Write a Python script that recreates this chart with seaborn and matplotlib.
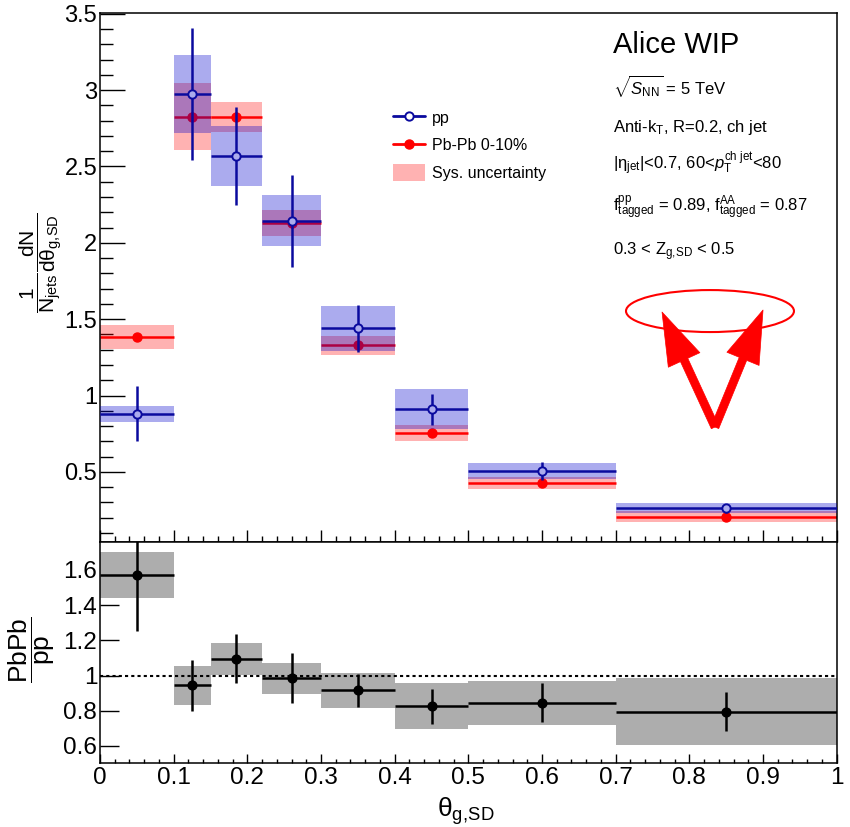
import matplotlib
matplotlib.use("Agg")
import matplotlib.pyplot as plt
import seaborn as sns
import pandas as pd
from matplotlib.patches import Ellipse, Patch
from matplotlib.lines import Line2D
from matplotlib.ticker import MultipleLocator, NullLocator, FuncFormatter

# theta_g,SD binning
bin_low = [0.00, 0.10, 0.15, 0.22, 0.30, 0.40, 0.50, 0.70]
bin_high = [0.10, 0.15, 0.22, 0.30, 0.40, 0.50, 0.70, 1.00]
bin_center = [0.05, 0.125, 0.185, 0.26, 0.35, 0.45, 0.60, 0.85]

# pp reference distribution
pp_val = [0.88, 2.975, 2.57, 2.145, 1.44, 0.91, 0.505, 0.263]
pp_stat = [0.18, 0.43, 0.32, 0.30, 0.155, 0.10, 0.06, 0.03]
pp_sys = [0.05, 0.255, 0.195, 0.167, 0.145, 0.13, 0.052, 0.033]

# Pb-Pb 0-10% distribution
pbpb_val = [1.383, 2.825, 2.825, 2.13, 1.33, 0.755, 0.427, 0.206]
pbpb_stat = [0.02, 0.03, 0.03, 0.03, 0.02, 0.02, 0.015, 0.01]
pbpb_sys = [0.078, 0.22, 0.10, 0.085, 0.063, 0.055, 0.04, 0.035]

# Pb-Pb / pp ratio
ratio_val = [1.57, 0.945, 1.095, 0.985, 0.915, 0.825, 0.845, 0.795]
ratio_stat = [0.32, 0.145, 0.14, 0.14, 0.095, 0.10, 0.11, 0.11]
ratio_sys = [0.13, 0.11, 0.09, 0.088, 0.10, 0.13, 0.125, 0.19]

legend_labels = ["pp", "Pb-Pb 0-10%", "Sys. uncertainty"]
info_title = "Alice WIP"
info_lines = [
    r"$\sqrt{S_{\rm NN}}$ = 5 TeV",
    r"Anti-k$_{\rm T}$, R=0.2, ch jet",
    r"|η$_{\rm jet}$|<0.7, 60<$p_{\rm T}^{\rm ch\ jet}$<80",
    r"f$_{\rm tagged}^{\rm pp}$ = 0.89, f$_{\rm tagged}^{\rm AA}$ = 0.87",
    r"0.3 < Z$_{\rm g,\!SD}$ < 0.5",
]

df = pd.DataFrame({
    "lo": bin_low, "hi": bin_high, "x": bin_center,
    "pp": pp_val, "pp_stat": pp_stat, "pp_sys": pp_sys,
    "pbpb": pbpb_val, "pbpb_stat": pbpb_stat, "pbpb_sys": pbpb_sys,
    "ratio": ratio_val, "ratio_stat": ratio_stat, "ratio_sys": ratio_sys,
})
df["w"] = df["hi"] - df["lo"]
xerr = [df["x"] - df["lo"], df["hi"] - df["x"]]

sns.set_theme(style="ticks")
plt.rcParams["font.family"] = ["Liberation Sans", "DejaVu Sans"]
plt.rcParams["mathtext.fontset"] = "custom"
plt.rcParams["mathtext.rm"] = "Liberation Sans"
plt.rcParams["mathtext.it"] = "Liberation Sans:italic"
plt.rcParams["mathtext.bf"] = "Liberation Sans:bold"
plt.rcParams["mathtext.sf"] = "Liberation Sans"
for key in ["text.color", "axes.labelcolor", "xtick.color", "ytick.color",
            "xtick.labelcolor", "ytick.labelcolor", "axes.edgecolor"]:
    plt.rcParams[key] = "black"

PP_LINE = "#0a0a9e"
PP_BOX = (0.0, 0.0, 0.80, 0.33)
PP_FACE = "#ababed"
PB_LINE = "#ff0000"
PB_BOX = (1.0, 0.0, 0.0, 0.30)
GRAY_BOX = "#adadad"

fig = plt.figure(figsize=(8.5, 8.27), dpi=100)
left, width = 100 / 850, 736.7 / 850
ax1 = fig.add_axes([left, 1 - 541.7 / 827, width, 529 / 827])
ax2 = fig.add_axes([left, 1 - 763 / 827, width, 221.3 / 827])

# ---------- top panel: distributions ----------
ax1.bar(df["lo"], 2 * df["pbpb_sys"], width=df["w"], bottom=df["pbpb"] - df["pbpb_sys"],
        align="edge", color=PB_BOX, linewidth=0, zorder=1)
ax1.errorbar(df["x"], df["pbpb"], xerr=xerr, yerr=df["pbpb_stat"], fmt="none",
             ecolor=PB_LINE, elinewidth=1.8, capsize=0, zorder=2)
sns.scatterplot(data=df, x="x", y="pbpb", ax=ax1, color=PB_LINE, edgecolor=PB_LINE,
                linewidth=1.0, s=42, marker="o", zorder=3, legend=False)

ax1.bar(df["lo"], 2 * df["pp_sys"], width=df["w"], bottom=df["pp"] - df["pp_sys"],
        align="edge", color=PP_BOX, linewidth=0, zorder=4)
ax1.errorbar(df["x"], df["pp"], xerr=xerr, yerr=df["pp_stat"], fmt="none",
             ecolor=PP_LINE, elinewidth=1.8, capsize=0, zorder=5)
sns.scatterplot(data=df, x="x", y="pp", ax=ax1, color=PP_FACE, edgecolor=PP_LINE,
                linewidth=1.4, s=36, marker="o", zorder=6, legend=False)

ax1.set_xlim(0, 1)
ax1.set_ylim(0.043, 3.507)
ax1.xaxis.set_major_locator(MultipleLocator(0.1))
ax1.xaxis.set_minor_locator(MultipleLocator(0.02))
ax1.yaxis.set_major_locator(MultipleLocator(0.5))
ax1.yaxis.set_minor_locator(MultipleLocator(0.1))
ax1.yaxis.set_major_formatter(FuncFormatter(lambda v, p: f"{v:g}"))
ax1.tick_params(axis="x", which="major", direction="in", length=8.6, width=1.0,
                labelbottom=False, top=False)
ax1.tick_params(axis="x", which="minor", direction="in", length=4.3, width=1.0, top=False)
ax1.tick_params(axis="y", which="major", direction="in", length=18, width=1.0,
                labelsize=17, pad=2, right=False)
ax1.tick_params(axis="y", which="minor", direction="in", length=9, width=1.0, right=False)
ax1.set_xlabel("")
ax1.set_ylabel(r"$\dfrac{1}{\mathrm{N}_{\rm jets}}\dfrac{\mathrm{dN}}{\mathrm{dθ}_{\rm g,\!SD}}$",
               fontsize=15)
ax1.yaxis.set_label_coords(-0.047, 0.527)

# legend
handles = [
    Line2D([], [], color=PP_LINE, lw=2, marker="o", markersize=6,
           markerfacecolor="white", markeredgecolor=PP_LINE, markeredgewidth=1.4),
    Line2D([], [], color=PB_LINE, lw=2, marker="o", markersize=6.5,
           markerfacecolor=PB_LINE, markeredgecolor=PB_LINE),
    Patch(facecolor=PB_BOX, edgecolor="none"),
]
ax1.legend(handles, legend_labels, loc="upper left", bbox_to_anchor=(0.3977, 0.818),
           frameon=False, fontsize=11.5, handlelength=2.0, handleheight=1.2,
           handletextpad=0.45, labelspacing=0.7, borderpad=0, borderaxespad=0)

# info block
tx = 0.6963
ax1.text(tx, 0.9238, info_title, transform=ax1.transAxes, fontsize=21, va="baseline")
for yy, line in zip([0.8463, 0.7745, 0.7026, 0.6232, 0.542], info_lines):
    ax1.text(tx, yy, line, transform=ax1.transAxes, fontsize=12, va="baseline")

# highlight marks
ax1.add_patch(Ellipse((0.828, 0.436), 0.228, 0.0794, transform=ax1.transAxes,
                      fill=False, edgecolor="red", lw=1.5, zorder=10))
for tip in [(0.7629, 0.4342), (0.900, 0.438)]:
    ax1.annotate("", xy=tip, xytext=(0.8348, 0.2168), xycoords="axes fraction",
                 textcoords="axes fraction", annotation_clip=False,
                 arrowprops=dict(arrowstyle="simple,head_length=1.9,head_width=1.25,tail_width=0.29",
                                 mutation_scale=20, color="red", lw=0.5,
                                 shrinkA=0, shrinkB=0), zorder=10)

# ---------- bottom panel: ratio ----------
ax2.bar(df["lo"], 2 * df["ratio_sys"], width=df["w"], bottom=df["ratio"] - df["ratio_sys"],
        align="edge", color=GRAY_BOX, linewidth=0, zorder=1)
ax2.axhline(1.0, color="black", ls=(0, (1.5, 1.5)), lw=1.5, zorder=2)
ax2.errorbar(df["x"], df["ratio"], xerr=xerr, yerr=df["ratio_stat"], fmt="none",
             ecolor="black", elinewidth=1.8, capsize=0, zorder=3)
sns.scatterplot(data=df, x="x", y="ratio", ax=ax2, color="black", edgecolor="black",
                linewidth=1.0, s=40, marker="o", zorder=4, legend=False)

ax2.set_xlim(0, 1)
ax2.set_ylim(0.503, 1.76)
ax2.xaxis.set_major_locator(MultipleLocator(0.1))
ax2.xaxis.set_minor_locator(MultipleLocator(0.02))
ax2.yaxis.set_major_locator(MultipleLocator(0.2))
ax2.yaxis.set_minor_locator(NullLocator())
fmt = FuncFormatter(lambda v, p: f"{round(v, 2):g}")
ax2.xaxis.set_major_formatter(fmt)
ax2.yaxis.set_major_formatter(fmt)
ax2.tick_params(axis="x", which="major", direction="in", length=6.5, width=1.0,
                labelsize=17.5, pad=3, top=False)
ax2.tick_params(axis="x", which="minor", direction="in", length=3.2, width=1.0, top=False)
ax2.tick_params(axis="y", which="major", direction="in", length=14, width=1.0,
                labelsize=17.5, pad=2, right=False)
ax2.set_xlabel(r"θ$_{\rm g,\!SD}$", fontsize=19)
ax2.xaxis.set_label_coords(0.497, -0.145)
ax2.set_ylabel(r"$\dfrac{\rm PbPb}{\rm pp}$", fontsize=19)
ax2.yaxis.set_label_coords(-0.059, 0.511)

for ax in (ax1, ax2):
    for sp in ax.spines.values():
        sp.set_visible(True)
        sp.set_linewidth(1.1)
        sp.set_color("black")

fig.savefig("out.png", dpi=100, facecolor="white")
